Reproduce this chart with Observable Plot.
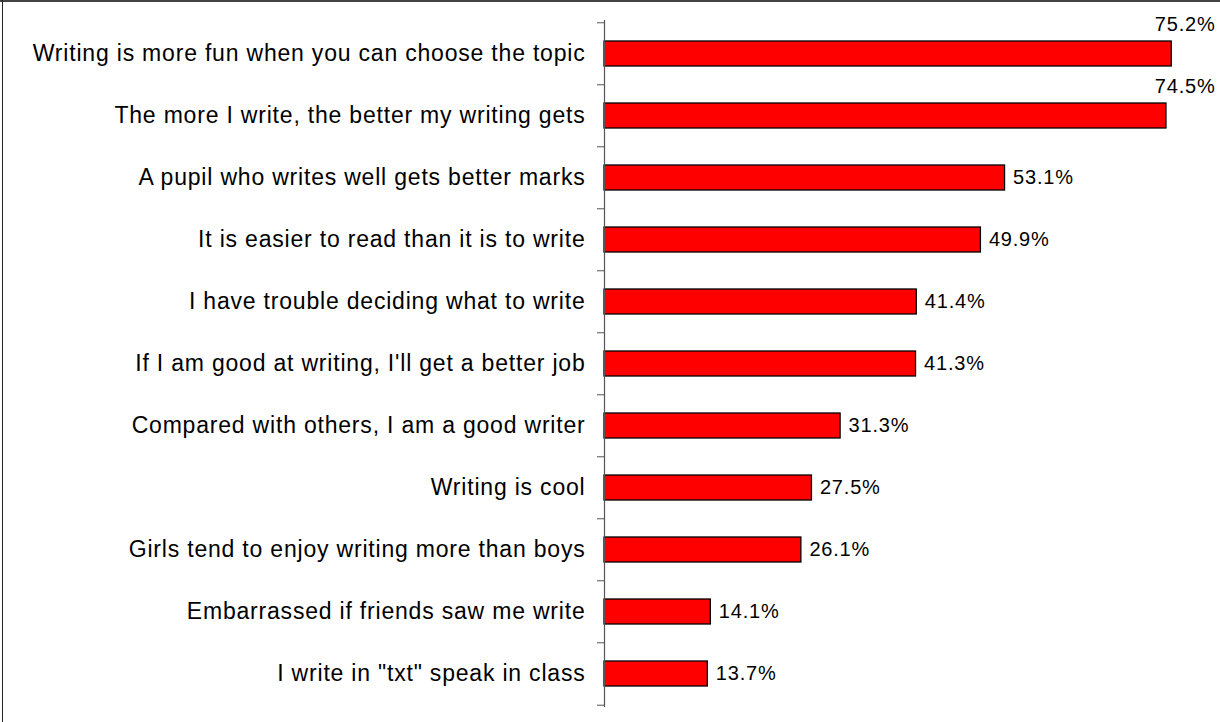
<!DOCTYPE html>
<html><head><meta charset="utf-8">
<script src="https://cdn.jsdelivr.net/npm/d3@7"></script>
<script src="https://cdn.jsdelivr.net/npm/@observablehq/plot@0.6"></script>
<style>
body{margin:0;background:#fff;}
#wrap{position:relative;width:1220px;height:722px;overflow:hidden;background:#fff;}
#topline{position:absolute;left:0;top:0;width:1220px;height:2px;background:#444;}
#leftline{position:absolute;left:2px;top:0;width:1px;height:722px;background:#222;}
#chart svg text{letter-spacing:0.8px;}
</style></head><body>
<div id="wrap"><div id="chart"></div><div id="topline"></div><div id="leftline"></div></div>
<script>
const categories = [
  "Writing is more fun when you can choose the topic",
  "The more I write, the better my writing gets",
  "A pupil who writes well gets better marks",
  "It is easier to read than it is to write",
  "I have trouble deciding what to write",
  "If I am good at writing, I'll get a better job",
  "Compared with others, I am a good writer",
  "Writing is cool",
  "Girls tend to enjoy writing more than boys",
  "Embarrassed if friends saw me write",
  "I write in \"txt\" speak in class"
];
const values = [75.2, 74.5, 53.1, 49.9, 41.4, 41.3, 31.3, 27.5, 26.1, 14.1, 13.7];

const data = categories.map((c, i) => ({statement: c, pct: values[i]}));
const fmt = v => v.toFixed(1) + "%";

const W = 1220, H = 722, mt = 20, mb = 15, ml = 604, mr = 5;
const step = (H - mt - mb) / categories.length;
const inside = data.filter(d => d.pct < 70);
const clamped = data.filter(d => d.pct >= 70);

const chart = Plot.plot({
  width: W, height: H,
  marginTop: mt, marginBottom: mb, marginLeft: ml, marginRight: mr,
  style: {fontFamily: "'Liberation Sans', Arial, sans-serif", background: "transparent", color: "#000"},
  x: {domain: [0, 81], axis: null},
  y: {domain: categories, paddingInner: 0.59, paddingOuter: 0.295, axis: null},
  marks: [
    Plot.barX(data, {x: "pct", y: "statement", fill: "#ff0000", stroke: "#000", strokeWidth: 1.3}),
    Plot.ruleX([0], {stroke: "#555", strokeWidth: 1.2}),
    Plot.axisY({tickSize: 7, tickFormat: () => "", dy: -step / 2, stroke: "#555", label: null}),
    Plot.axisY([categories[categories.length - 1]], {tickSize: 7, tickFormat: () => "", dy: step / 2, stroke: "#555", label: null}),
    Plot.axisY({tickSize: 0, tickPadding: 19, fontSize: 23, fill: "#000", label: null}),
    Plot.text(inside, {x: "pct", y: "statement", text: d => fmt(d.pct), textAnchor: "start", dx: 8, fontSize: 20, fill: "#000"}),
    Plot.text(clamped, {y: "statement", text: d => fmt(d.pct), frameAnchor: "right", textAnchor: "end", dy: -29, fontSize: 20, fill: "#000"})
  ]
});
document.getElementById("chart").appendChild(chart);
</script>
</body></html>
